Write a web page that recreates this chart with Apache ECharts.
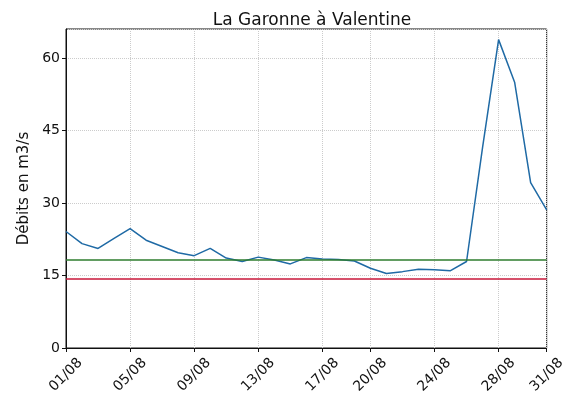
<!DOCTYPE html>
<html>
<head>
<meta charset="utf-8">
<script src="https://cdn.jsdelivr.net/npm/echarts@6/dist/echarts.min.js"></script>
<style>
  html, body { margin: 0; padding: 0; background: #fff; }
  #chart { width: 568px; height: 401px; }
</style>
</head>
<body>
<div id="chart"></div>
<script>
// one value per day, August 1 to 31
const days = []
for (let d = 1; d <= 31; d++) days.push((d < 10 ? '0' + d : '' + d) + '/08')

const debits = [
  24.1, 21.6, 20.6, 22.7, 24.7, 22.3, 21.0, 19.7, 19.1, 20.6,
  18.6, 17.9, 18.8, 18.2, 17.4, 18.7, 18.4, 18.3, 18.0, 16.5,
  15.4, 15.8, 16.3, 16.2, 16.0, 17.9, 41.5, 63.8, 55.0, 34.2,
  28.6
]

// dates shown under the axis
const tickLabels = ['01/08', '05/08', '09/08', '13/08', '17/08', '20/08', '24/08', '28/08', '31/08']

const seuilVigilance = 18.3
const seuilAlerte = 14.4

const showTick = (idx, val) => tickLabels.includes(val)

const chart = echarts.init(document.getElementById('chart'))

const option = {
  animation: false,
  textStyle: { fontFamily: 'DejaVu Sans' },
  title: {
    text: 'La Garonne à Valentine',
    left: 307,
    textAlign: 'center',
    top: 7,
    textStyle: { fontSize: 17, fontWeight: 'normal', color: '#111', fontFamily: 'DejaVu Sans' }
  },
  grid: {
    left: 66,
    right: 18,
    top: 29,
    bottom: 53,
    show: true,
    borderColor: '#111',
    borderWidth: 1
  },
  xAxis: {
    type: 'category',
    data: days,
    boundaryGap: false,
    axisLine: { lineStyle: { color: '#111' } },
    axisTick: { interval: showTick, length: 4, lineStyle: { color: '#111' } },
    axisLabel: {
      interval: showTick,
      rotate: 45,
      align: 'center',
      verticalAlign: 'middle',
      margin: 27,
      fontSize: 14,
      color: '#111'
    },
    splitLine: { show: true, interval: showTick, lineStyle: { color: '#ccc', type: 'dotted' } }
  },
  yAxis: {
    type: 'value',
    min: 0,
    max: 66,
    interval: 15,
    name: 'Débits en m3/s',
    nameLocation: 'middle',
    nameGap: 31,
    nameTextStyle: { fontSize: 15, color: '#111' },
    axisLine: { show: true, lineStyle: { color: '#111' } },
    axisTick: { show: true, length: 4, lineStyle: { color: '#111' } },
    axisLabel: { fontSize: 14, color: '#111', margin: 6, showMaxLabel: false },
    splitLine: { show: true, lineStyle: { color: '#ccc', type: 'dotted' } }
  },
  series: [
    {
      name: 'Débit',
      type: 'line',
      data: debits,
      symbol: 'none',
      lineStyle: { color: '#1f6aa5', width: 1.5 },
      z: 3,
      markLine: {
        silent: true,
        symbol: 'none',
        label: { show: false },
        data: [
          { yAxis: seuilVigilance, lineStyle: { color: '#2e7d2e', width: 1.5, type: 'solid' } },
          { yAxis: seuilAlerte, lineStyle: { color: '#c8173a', width: 1.5, type: 'solid' } }
        ]
      }
    }
  ]
}

chart.setOption(option)
</script>
</body>
</html>
